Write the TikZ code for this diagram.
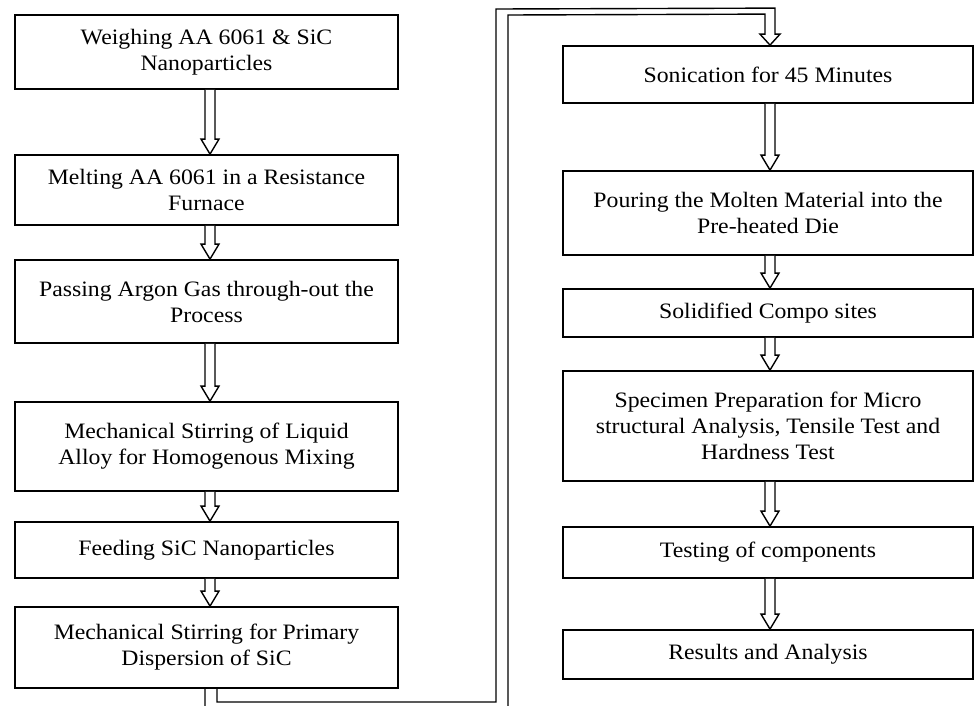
\documentclass[tikz,border=0pt]{standalone}
\usepackage{fontspec}
\setmainfont{Liberation Serif}[FakeStretch=1.08]
\usetikzlibrary{calc}
\tikzset{
  stepbox/.style={draw, line width=1.8pt, rectangle, align=center, inner sep=0pt,
    font=\fontsize{22}{26}\selectfont},
  lbox/.style={stepbox, minimum width=383pt},
  rbox/.style={stepbox, minimum width=410pt},
  harrowline/.style={draw, fill=white, line width=1.4pt, line join=miter},
}
\newcommand\hollowarrow[3]{%
  \path[harrowline] let \p1=(#1.south -| #3), \p2=(#2.north -| #3) in
    (\x1-5pt,\y1) -- (\x1-5pt,\y2+15pt) -- (\x1-9pt,\y2+15pt) -- (\x1,\y2)
    -- (\x1+9pt,\y2+15pt) -- (\x1+5pt,\y2+15pt) -- (\x1+5pt,\y1);}
\begin{document}
\begin{tikzpicture}[x=1pt,y=-1pt]
\useasboundingbox (0,0) rectangle (974,705);
\coordinate (cL) at (210,0);
\coordinate (cR) at (770,0);
% left column
\node[lbox, minimum height=74pt] (L1) at (206.5,52) {Weighing AA 6061 \& SiC\\Nanoparticles};
\node[lbox, minimum height=70pt] (L2) at (206.5,190) {Melting AA 6061 in a Resistance\\Furnace};
\node[lbox, minimum height=83pt] (L3) at (206.5,301.5) {Passing Argon Gas through-out the\\Process};
\node[lbox, minimum height=89pt] (L4) at (206.5,446.5) {Mechanical Stirring of Liquid\\Alloy for Homogenous Mixing};
\node[lbox, minimum height=56pt] (L5) at (206.5,550) {Feeding SiC Nanoparticles};
\node[lbox, minimum height=81pt] (L6) at (206.5,647.5) {Mechanical Stirring for Primary\\Dispersion of SiC};
% right column
\node[rbox, minimum height=57pt] (R1) at (768,74.5) {Sonication for 45 Minutes};
\node[rbox, minimum height=84pt] (R2) at (768,213) {Pouring the Molten Material into the\\Pre-heated Die};
\node[rbox, minimum height=48pt] (R3) at (768,313) {Solidified Compo sites};
\node[rbox, minimum height=110pt] (R4) at (768,426) {Specimen Preparation for Micro\\structural Analysis, Tensile Test and\\Hardness Test};
\node[rbox, minimum height=51pt] (R5) at (768,552.5) {Testing of components};
\node[rbox, minimum height=49pt] (R6) at (768,654.5) {Results and Analysis};
% arrows
\hollowarrow{L1}{L2}{cL}
\hollowarrow{L2}{L3}{cL}
\hollowarrow{L3}{L4}{cL}
\hollowarrow{L4}{L5}{cL}
\hollowarrow{L5}{L6}{cL}
\hollowarrow{R1}{R2}{cR}
\hollowarrow{R2}{R3}{cR}
\hollowarrow{R3}{R4}{cR}
\hollowarrow{R4}{R5}{cR}
\hollowarrow{R5}{R6}{cR}
% pipe connector from L6 to R1
\coordinate (pa) at ($(L6.south -| cL)+(-5,0)$);
\coordinate (pb) at ($(L6.south -| cL)+(7,0)$);
\coordinate (ht) at (R1.north -| cR);
\draw[line width=1.4pt, line join=miter]
  (pa) -- (pa |- 0,708) -- (508,708) -- (508,15) -- ($(ht)+(-5,-31)$)
  -- ($(ht)+(-5,-11)$) -- ($(ht)+(-10,-11)$) -- (ht) -- ($(ht)+(10,-11)$)
  -- ($(ht)+(5,-11)$) -- ($(ht)+(5,-37)$) -- (496,9) -- (496,702)
  -- (pb |- 0,702) -- (pb);
\end{tikzpicture}
\end{document}
